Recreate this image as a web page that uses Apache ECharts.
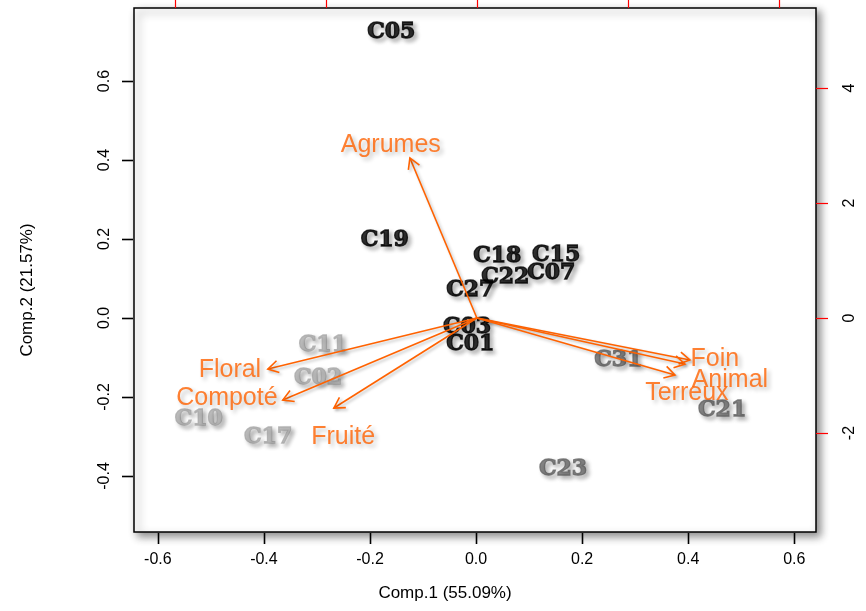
<!DOCTYPE html>
<html><head><meta charset="utf-8">
<script src="https://cdn.jsdelivr.net/npm/echarts@6/dist/echarts.min.js"></script>
<style>html,body{margin:0;padding:0;background:#fff}#c{width:866px;height:611px}</style>
</head><body><div id="c"></div>
<script>
// Sample scores (Comp.1, Comp.2)
const sampleNames = ['C05','C19','C18','C15','C22','C07','C27','C03','C01','C11','C02','C10','C17','C31','C21','C23'];
const comp1 = [-0.160,-0.172,0.040,0.151,0.055,0.142,-0.011,-0.017,-0.011,-0.289,-0.298,-0.523,-0.392,0.268,0.464,0.164];
const comp2 = [0.724,0.197,0.157,0.159,0.104,0.114,0.071,-0.023,-0.066,-0.068,-0.152,-0.256,-0.301,-0.106,-0.235,-0.382];
const sampleShade = ['dark','dark','dark','dark','dark','dark','dark','dark','dark','light','light','light','light','mid','mid','mid'];
// Variable loadings (arrow tips) and label anchors
const varNames = ['Agrumes','Floral','Compoté','Fruité','Foin','Animal','Terreux'];
const load1 = [-0.887,-2.768,-2.570,-1.894,2.821,2.755,2.623];
const load2 = [2.783,-0.887,-1.426,-1.565,-0.730,-0.800,-0.991];
const varLabel1 = [-1.14,-3.27,-3.31,-1.77,3.15,3.35,2.78];
const varLabel2 = [3.01,-0.90,-1.39,-2.07,-0.71,-1.08,-1.30];
// Tick labels
const xTicks = [-0.6,-0.4,-0.2,0,0.2,0.4,0.6];
const yTicks = [-0.4,-0.2,0,0.2,0.4,0.6];
const topTicks = [-4,-2,0,2,4];
const rightTicks = [-2,0,2,4];

const shadeColor = {dark:'#000000', light:'#ababab', mid:'#686868'};
const orange = '#ff6200';
const axisFont = '"Liberation Sans", Arial, sans-serif';
const TICK_LEN = 11;
const X_MIN = -0.645, X_MAX = 0.641, Y_MIN = -0.542, Y_MAX = 0.785;

const chart = echarts.init(document.getElementById('c'), null, {renderer:'canvas'});
const baseGraphic = [
  {type:'text', x:445, y:593, z:100, style:{text:'Comp.1 (55.09%)', fill:'#000', font:'17px '+axisFont, textAlign:'center', textVerticalAlign:'middle'}},
  {type:'text', x:27, y:290, z:100, rotation:Math.PI/2, style:{text:'Comp.2 (21.57%)', fill:'#000', font:'17px '+axisFont, textAlign:'center', textVerticalAlign:'middle'}}
];
const option = {
  animation:false,
  backgroundColor:'#ffffff',
  grid:{left:134, right:50, top:8, bottom:79, show:true, borderColor:'#000', borderWidth:1.5,
        backgroundColor:'#fff', shadowBlur:8, shadowColor:'rgba(0,0,0,0.45)', shadowOffsetX:4, shadowOffsetY:4},
  xAxis:[
    {type:'value', position:'bottom', min:X_MIN, max:X_MAX,
     axisLine:{show:false, onZero:false}, splitLine:{show:false},
     axisTick:{show:false},
     axisLabel:{customValues:xTicks, margin:20, fontSize:16, fontFamily:axisFont, color:'#000',
                formatter:v=>Number(v).toFixed(1)}},
    {type:'value', position:'top', min:-4.54, max:4.49,
     axisLine:{show:false, onZero:false}, splitLine:{show:false},
     axisTick:{show:true, customValues:topTicks, length:9, lineStyle:{color:'#ff0000', width:1.2}},
     axisLabel:{show:false}}
  ],
  yAxis:[
    {type:'value', position:'left', min:Y_MIN, max:Y_MAX,
     axisLine:{show:false, onZero:false}, splitLine:{show:false},
     axisTick:{show:false},
     axisLabel:{customValues:yTicks, rotate:90, margin:21, fontSize:16, fontFamily:axisFont, color:'#000',
                formatter:v=>Number(v).toFixed(1)}},
    {type:'value', position:'right', min:-3.72, max:5.39,
     axisLine:{show:false, onZero:false}, splitLine:{show:false},
     axisTick:{show:true, customValues:rightTicks, length:12, lineStyle:{color:'#ff0000', width:1.2}},
     axisLabel:{customValues:rightTicks, rotate:90, margin:26, fontSize:16, fontFamily:axisFont, color:'#000'}}
  ],
  graphic:baseGraphic,
  series:[
    {type:'scatter', xAxisIndex:0, yAxisIndex:0, symbolSize:0, z:2,
     data:sampleNames.map((n,i)=>({name:n, value:[comp1[i], comp2[i]],
        label:{color:shadeColor[sampleShade[i]], textBorderColor:shadeColor[sampleShade[i]]}})),
     label:{show:true, position:'inside', formatter:p=>p.name, fontFamily:'"DejaVu Serif", serif', fontWeight:'bold',
            fontSize:22, textBorderWidth:1.3, textShadowColor:'rgba(0,0,0,0.35)', textShadowBlur:4, textShadowOffsetX:3, textShadowOffsetY:3}},
    {type:'custom', xAxisIndex:1, yAxisIndex:1, z:3,
     data:load1.map((v,i)=>[v, load2[i]]),
     renderItem:function(params, api){
       const p0 = api.coord([0,0]);
       const p1 = api.coord([api.value(0), api.value(1)]);
       const ang = Math.atan2(p1[1]-p0[1], p1[0]-p0[0]);
       const L = 12, a = Math.PI/6;
       const h1 = [p1[0]-L*Math.cos(ang-a), p1[1]-L*Math.sin(ang-a)];
       const h2 = [p1[0]-L*Math.cos(ang+a), p1[1]-L*Math.sin(ang+a)];
       const st = {stroke:orange, lineWidth:1.6, fill:null, shadowBlur:3, shadowColor:'rgba(0,0,0,0.25)', shadowOffsetX:2, shadowOffsetY:2};
       return {type:'group', children:[
         {type:'line', shape:{x1:p0[0], y1:p0[1], x2:p1[0], y2:p1[1]}, style:st},
         {type:'polyline', shape:{points:[h1,p1,h2]}, style:st}
       ]};
     }},
    {type:'scatter', xAxisIndex:1, yAxisIndex:1, symbolSize:0, z:4,
     data:varNames.map((n,i)=>({name:n, value:[varLabel1[i], varLabel2[i]]})),
     label:{show:true, position:'inside', formatter:p=>p.name, fontFamily:axisFont, fontSize:25, color:orange,
            textShadowColor:'rgba(0,0,0,0.3)', textShadowBlur:4, textShadowOffsetX:3, textShadowOffsetY:3}}
  ]
};
chart.setOption(option);

// Bottom/left tick marks placed through the chart's own scales
const yBottom = chart.convertToPixel({yAxisIndex:0}, Y_MIN);
const xLeft = chart.convertToPixel({xAxisIndex:0}, X_MIN);
const tickGraphic = baseGraphic.slice();
xTicks.forEach(v => {
  const x = Math.round(chart.convertToPixel({xAxisIndex:0}, v)) + 0.5;
  tickGraphic.push({type:'line', z:100, shape:{x1:x, y1:yBottom + 1, x2:x, y2:yBottom + 1 + TICK_LEN}, style:{stroke:'#000000', lineWidth:1.6}});
});
yTicks.forEach(v => {
  const y = Math.round(chart.convertToPixel({yAxisIndex:0}, v)) + 0.5;
  tickGraphic.push({type:'line', z:100, shape:{x1:xLeft - 1, y1:y, x2:xLeft - 1 - TICK_LEN, y2:y}, style:{stroke:'#000000', lineWidth:1.6}});
});
chart.setOption({graphic:tickGraphic});
</script></body></html>
